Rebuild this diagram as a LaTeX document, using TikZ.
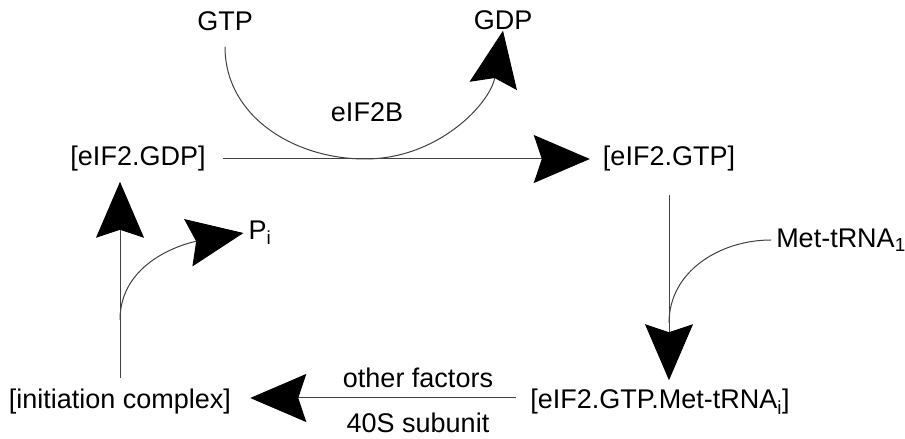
\documentclass[tikz,border=0pt]{standalone}
\usepackage{fontspec}
\setmainfont{Liberation Sans}
\usetikzlibrary{arrows.meta}

\begin{document}
\begin{tikzpicture}[x=1pt,y=1pt]

% \draw[help lines, color=gray!30] (0,0) grid[step=50] (905,439);

\tikzstyle{every node}=[font=\fontsize{27}{32}\selectfont, inner sep=0pt]
\tikzstyle{link}=[line width=1pt, black!75]
\tikzstyle{bigtip}=[-{Stealth[length=56pt,width=48pt,inset=8pt,black]}]
\useasboundingbox (0,0) rectangle (905,439);

% the cycle
\node (gdpc) at (138,280) {[eIF2.GDP]};
\node (gtpc) at (669,280) {[eIF2.GTP]};
\node (metc) at (660,37) {[eIF2.GTP.Met-tRNA\textsubscript{i}]};
\node (init) at (120,37) {[initiation complex]};

% side species
\node (gtp) at (225,418) {GTP};
\node (gdp) at (503,419) {GDP};
\node (eifb) at (367,327) {eIF2B};
\node (met) at (841,199) {Met-tRNA\textsubscript{1}};
\node (pi) at (260,206) {P\textsubscript{i}};
\node (other) at (418,61) {other factors};
\node (sub) at (418,16) {40S subunit};

\coordinate (low) at (365,280);
\coordinate (hb) at (669,116);
\coordinate (branch) at (120,119);

% eIF2B exchange
\draw[link,bigtip] (gdpc.east) -- (gtpc.west) [shorten <=17pt, shorten >=13pt];
\draw[link,bigtip] ([yshift=-16pt]gtp.south) to[out=-90,in=180] (low) to[out=0,in=-100] ([yshift=-1pt]gdp.south);

% Met-tRNA binding
\draw[link,bigtip] ([yshift=-23pt]gtpc.south) -- ([yshift=9pt]gtpc.south |- metc.north);
\draw[link] ([xshift=-5pt]met.west) to[out=180,in=90] (hb);

% assembly
\draw[link,bigtip] ([xshift=-14pt,yshift=4pt]metc.west) -- ([xshift=19pt,yshift=4pt]init.east);

% release
\draw[link,bigtip] ([yshift=11pt]init.north) -- ([yshift=-10pt]init.north |- gdpc.south);
\draw[link,bigtip] (branch) to[out=90,in=190] ([xshift=-5pt]pi.west);

\end{tikzpicture}
\end{document}
